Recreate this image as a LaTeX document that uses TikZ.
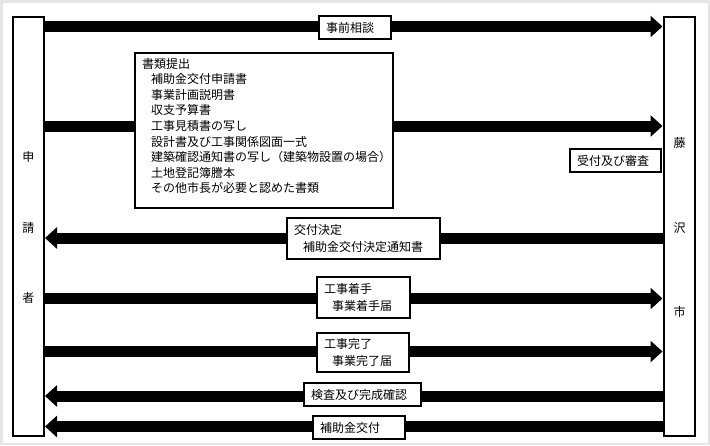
\documentclass[tikz,border=0pt]{standalone}
\usepackage{fontspec}
\setmainfont{Noto Sans CJK JP}
\usetikzlibrary{arrows.meta}
\begin{document}
\begin{tikzpicture}[x=1pt,y=-1pt,
  col/.style={draw, line width=2pt, minimum width=31pt, minimum height=419pt, inner sep=0pt},
  ctext/.style={font=\fontsize{12}{14}\selectfont, inner sep=0pt},
  lbl/.style={draw, line width=2pt, fill=white, inner xsep=7pt, inner ysep=0pt, align=left,
    font=\fontsize{12}{16.5}\selectfont},
  flow/.style={line width=11pt, -{Triangle[length=12pt,width=21pt]}}]

\useasboundingbox (0,0) rectangle (710,445);
\draw[gray!20, line width=2.5pt] (1.25,1.25) rectangle (708.75,443.75);

% columns
\node[col] (app) at (28.5,226.5) {};
\node[col] (city) at (679,226.5) {};

\node[ctext] (a1) at (28.5,157) {申};
\node[ctext] (a2) at (28.5,228) {請};
\node[ctext] (a3) at (28.5,298) {者};
\node[ctext] (c1) at (679.5,143) {藤};
\node[ctext] (c2) at (679.5,228) {沢};
\node[ctext] (c3) at (679.5,312) {市};

% flows
\draw[flow] (app.east |- 0,26.5) -- (city.west |- 0,26.5);
\draw[flow] (app.east |- 0,126) -- (city.west |- 0,126);
\draw[flow] (city.west |- 0,238) -- (app.east |- 0,238);
\draw[flow] (app.east |- 0,298.5) -- (city.west |- 0,298.5);
\draw[flow] (app.east |- 0,351.5) -- (city.west |- 0,351.5);
\draw[flow] (city.west |- 0,396) -- (app.east |- 0,396);
\draw[flow] (city.west |- 0,426.5) -- (app.east |- 0,426.5);

% labels
\node[lbl, text width=58pt, minimum height=23pt] (b1) at (355,27.5) {事前相談};
\node[lbl, text width=244pt, minimum height=155pt, font=\fontsize{12}{15.6}\selectfont] (b2) at (264,130.5)
 {書類提出\\
  \hspace*{9pt}補助金交付申請書\\
  \hspace*{9pt}事業計画説明書\\
  \hspace*{9pt}収支予算書\\
  \hspace*{9pt}工事見積書の写し\\
  \hspace*{9pt}設計書及び工事関係図面一式\\
  \hspace*{9pt}建築確認通知書の写し（建築物設置の場合）\\
  \hspace*{9pt}土地登記簿謄本\\
  \hspace*{9pt}その他市長が必要と認めた書類\\[-5.6pt]
  \mbox{}};
\node[lbl, text width=77pt, minimum height=23pt] (b3) at (615.5,160.5) {受付及び審査};
\node[lbl, text width=139pt, minimum height=41pt] (b4) at (363.5,238.5)
 {交付決定\\\hspace*{9pt}補助金交付決定通知書};
\node[lbl, text width=79pt, minimum height=41pt] (b5) at (363.5,297.5)
 {工事着手\\\hspace*{8pt}事業着手届};
\node[lbl, text width=78pt, minimum height=39pt] (b6) at (363,352.5)
 {工事完了\\\hspace*{8pt}事業完了届};
\node[lbl, text width=103pt, minimum height=23pt] (b7) at (362.5,394.5) {検査及び完成確認};
\node[lbl, text width=78pt, minimum height=23pt] (b8) at (359,427.5) {補助金交付};
\end{tikzpicture}
\end{document}
